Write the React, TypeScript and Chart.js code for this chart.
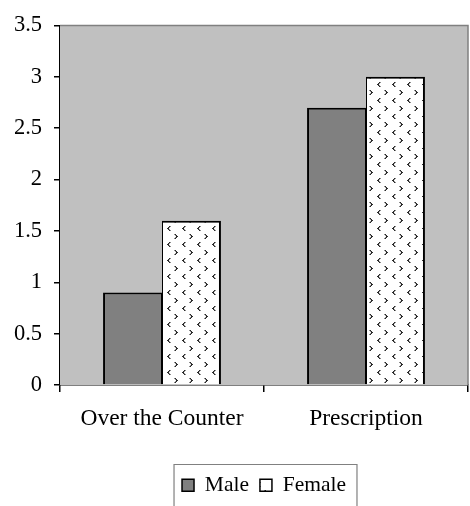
import React, { useEffect, useRef } from "react";
import { Chart, registerables } from "chart.js";

Chart.register(...registerables);

const categories = ["Over the Counter", "Prescription"];
const maleValues = [0.9, 2.7];
const femaleValues = [1.6, 3.0];
const seriesNames = ["Male", "Female"];
const yMin = 0;
const yMax = 3.5;
const yStep = 0.5;

function makePattern(): CanvasPattern | string {
  const c = document.createElement("canvas");
  c.width = 15;
  c.height = 16;
  const g = c.getContext("2d");
  if (!g) return "#ffffff";
  g.fillStyle = "#ffffff";
  g.fillRect(0, 0, 15, 16);
  const dark = "#2a2a2a";
  const mid = "#8a8a8a";
  // "<" mark
  const ltDark = [
    [2, 0],
    [1, 1],
    [0, 2],
    [1, 2],
    [1, 3],
    [2, 4],
  ];
  const ltMid = [
    [2, 1],
    [2, 3],
    [3, 0],
    [3, 4],
  ];
  g.fillStyle = mid;
  ltMid.forEach(([x, y]) => g.fillRect(2 + x, 2 + y, 1, 1));
  g.fillStyle = dark;
  ltDark.forEach(([x, y]) => g.fillRect(2 + x, 2 + y, 1, 1));
  // ">" mark
  const gtDark = [
    [1, 0],
    [2, 1],
    [3, 2],
    [2, 2],
    [2, 3],
    [1, 4],
  ];
  const gtMid = [
    [1, 1],
    [1, 3],
    [0, 0],
    [0, 4],
  ];
  g.fillStyle = mid;
  gtMid.forEach(([x, y]) => g.fillRect(9 + x, 10 + y, 1, 1));
  g.fillStyle = dark;
  gtDark.forEach(([x, y]) => g.fillRect(9 + x, 10 + y, 1, 1));
  const p = g.createPattern(c, "repeat");
  return p || "#ffffff";
}

const plotBg = {
  id: "plotBg",
  beforeDatasetsDraw(chart: any) {
    const { ctx, chartArea } = chart;
    ctx.save();
    ctx.fillStyle = "#c0c0c0";
    ctx.fillRect(chartArea.left, chartArea.top, chartArea.right - chartArea.left, chartArea.bottom - chartArea.top);
    ctx.strokeStyle = "#808080";
    ctx.lineWidth = 1.5;
    ctx.beginPath();
    ctx.moveTo(chartArea.left, chartArea.top);
    ctx.lineTo(chartArea.right, chartArea.top);
    ctx.lineTo(chartArea.right, chartArea.bottom);
    ctx.stroke();
    ctx.restore();
  },
};

const legendBorder = {
  id: "legendBorder",
  afterDraw(chart: any) {
    const lg = chart.legend;
    if (!lg || !lg.legendHitBoxes || !lg.legendHitBoxes.length) return;
    const hbs = lg.legendHitBoxes;
    const first = hbs[0];
    const last = hbs[hbs.length - 1];
    const left = first.left - 8;
    const right = last.left + last.width + 11;
    const top = first.top - 10;
    const { ctx } = chart;
    ctx.save();
    ctx.strokeStyle = "#808080";
    ctx.lineWidth = 1.2;
    ctx.beginPath();
    ctx.moveTo(left, chart.height + 5);
    ctx.lineTo(left, top);
    ctx.lineTo(right, top);
    ctx.lineTo(right, chart.height + 5);
    ctx.stroke();
    ctx.restore();
  },
};

export default function App() {
  const ref = useRef<HTMLCanvasElement | null>(null);

  useEffect(() => {
    if (!ref.current) return;
    const pattern = makePattern();
    const family = "'Liberation Serif', 'Times New Roman', serif";
    const chart = new Chart(ref.current, {
      type: "bar",
      data: {
        labels: categories,
        datasets: [
          {
            label: seriesNames[0],
            data: maleValues,
            backgroundColor: "#808080",
            borderColor: "#000000",
            borderWidth: { left: 2, top: 2, right: 1, bottom: 0 },
            borderSkipped: false,
            categoryPercentage: 0.578,
            barPercentage: 1,
          },
          {
            label: seriesNames[1],
            data: femaleValues,
            backgroundColor: pattern as any,
            borderColor: "#000000",
            borderWidth: { left: 1, top: 2, right: 2, bottom: 0 },
            borderSkipped: false,
            categoryPercentage: 0.578,
            barPercentage: 1,
          },
        ],
      },
      options: {
        responsive: false,
        animation: false,
        layout: { padding: { top: 23, right: 2, left: 0, bottom: 0 } },
        scales: {
          x: {
            grid: {
              drawOnChartArea: false,
              drawTicks: true,
              tickLength: 7,
              color: "#000000",
              lineWidth: 1.5,
            },
            border: { display: true, color: "#000000", width: 1.5 },
            ticks: { color: "#000000", font: { family, size: 23.5 }, padding: 13 },
            afterFit(scale: any) {
              scale.height = 78.5;
            },
          },
          y: {
            min: yMin,
            max: yMax,
            ticks: {
              stepSize: yStep,
              color: "#000000",
              font: { family, size: 22.5 },
              padding: 12,
              callback: (v: any) => String(Number(v)),
            },
            grid: {
              drawOnChartArea: false,
              drawTicks: true,
              tickLength: 6,
              color: "#000000",
              lineWidth: 1.5,
            },
            border: { display: true, color: "#000000", width: 1.5 },
            afterFit(scale: any) {
              scale.width = 60;
            },
          },
        },
        plugins: {
          tooltip: { enabled: false },
          legend: {
            position: "bottom",
            fullSize: false,
            labels: {
              color: "#000000",
              font: { family, size: 21.5 },
              boxWidth: 12,
              boxHeight: 12,
              padding: 11,
              generateLabels(ch: any) {
                const items = Chart.defaults.plugins.legend.labels.generateLabels(ch);
                items.forEach((it: any) => {
                  it.lineWidth = 1.5;
                  it.strokeStyle = "#000000";
                });
                return items;
              },
            },
          },
        },
      },
      plugins: [plotBg, legendBorder],
    });
    return () => chart.destroy();
  }, []);

  return (
    <div style={{ position: "absolute", left: 0, top: 0, width: 470, height: 506, background: "#ffffff" }}>
      <canvas ref={ref} width={470} height={506} style={{ display: "block" }} />
    </div>
  );
}
